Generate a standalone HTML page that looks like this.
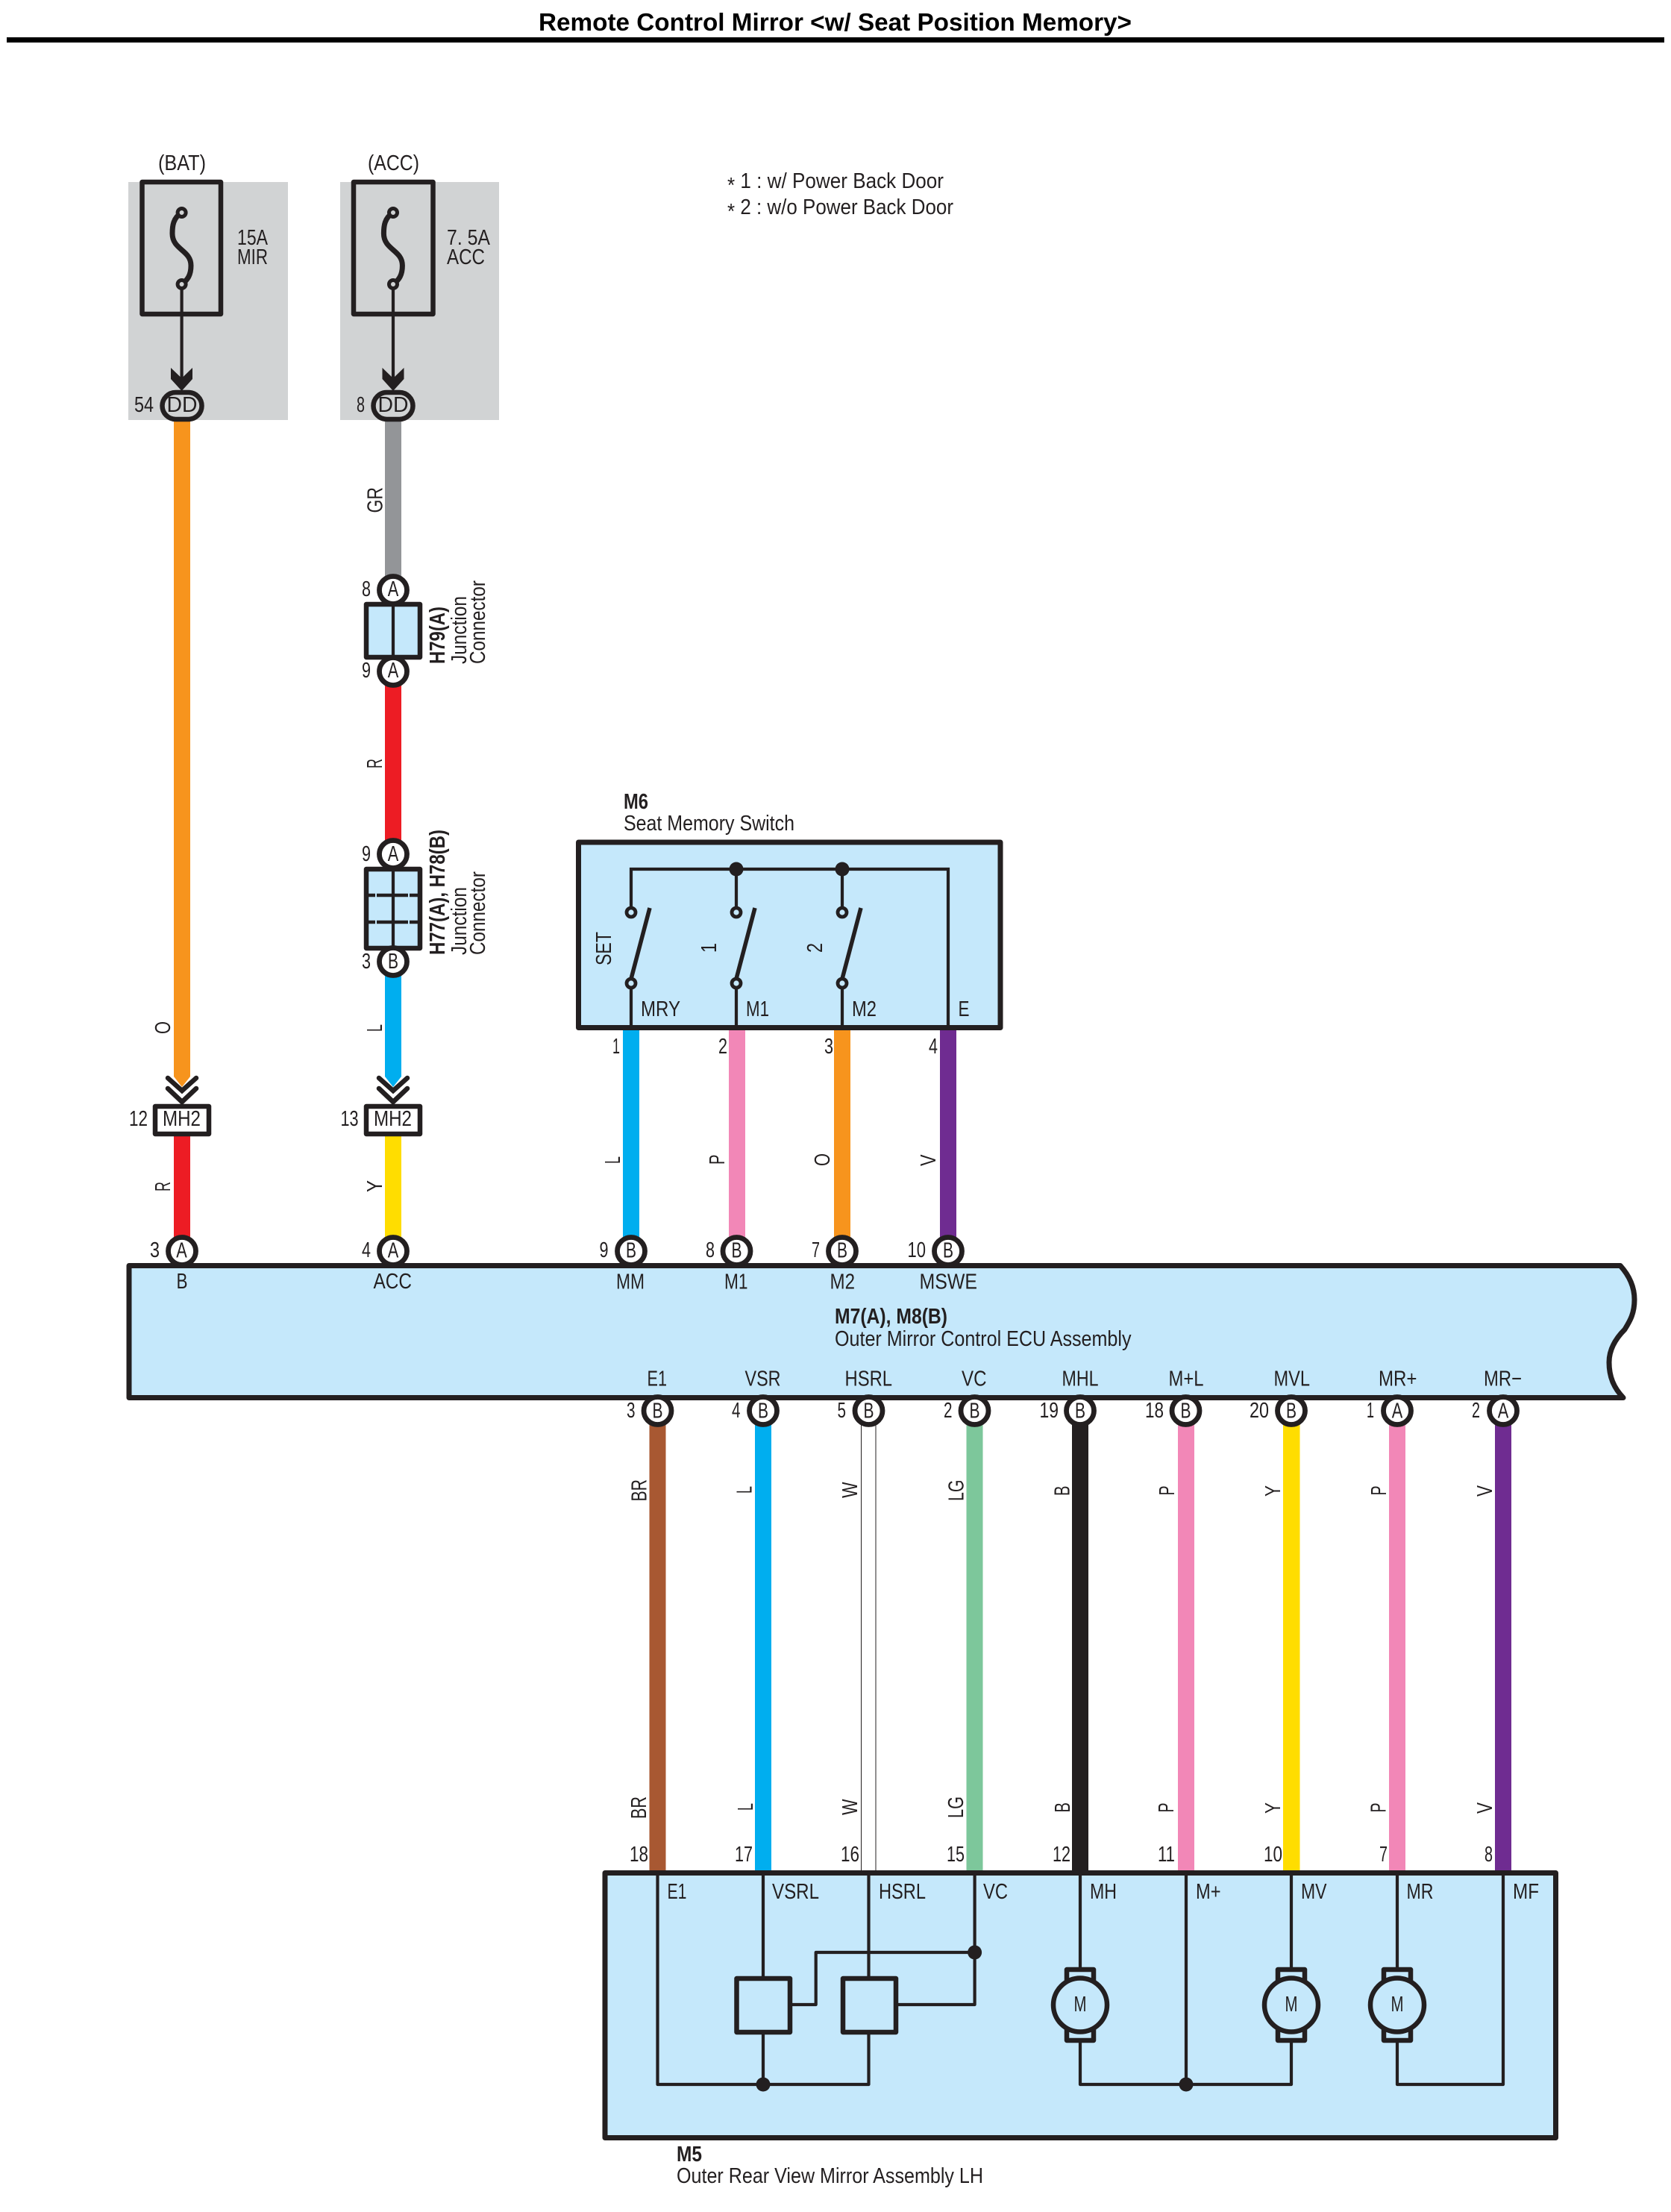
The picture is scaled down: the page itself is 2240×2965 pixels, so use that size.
<!DOCTYPE html>
<html><head><meta charset="utf-8"><title>Remote Control Mirror</title>
<style>
html,body{margin:0;padding:0;background:#fff}
svg{display:block}
text{font-family:"Liberation Sans",sans-serif;font-size:29px;fill:#231f20}
.b{font-weight:bold}
.m{text-anchor:middle}
.ln{stroke:#231f20;stroke-width:4.2;fill:none}
.hv{stroke:#231f20;stroke-width:6.5;fill:none;stroke-linejoin:round}
.c{fill:#fff;stroke:#231f20;stroke-width:6.8}
.dot{fill:#231f20}
</style></head><body>
<svg xmlns="http://www.w3.org/2000/svg" width="2240" height="2965" viewBox="0 0 2240 2965">
<rect width="2240" height="2965" fill="#fff"/>

<!-- title -->
<text x="722" y="41" class="b" style="font-size:33px;fill:#000" textLength="795" lengthAdjust="spacingAndGlyphs">Remote Control Mirror &lt;w/ Seat Position Memory&gt;</text>
<rect x="9" y="50" width="2222" height="7" fill="#000"/>

<!-- notes -->
<text x="975" y="252" textLength="290" lengthAdjust="spacingAndGlyphs"><tspan dy="6">*</tspan><tspan dy="-6"> 1 : w/ Power Back Door</tspan></text>
<text x="975" y="287" textLength="303" lengthAdjust="spacingAndGlyphs"><tspan dy="6">*</tspan><tspan dy="-6"> 2 : w/o Power Back Door</tspan></text>

<!-- panels -->
<rect x="172" y="244" width="214" height="319" fill="#d1d3d4"/>
<rect x="456" y="244" width="213" height="319" fill="#d1d3d4"/>

<text x="212" y="228" textLength="64" lengthAdjust="spacingAndGlyphs">(BAT)</text>
<text x="493" y="228" textLength="69" lengthAdjust="spacingAndGlyphs">(ACC)</text>

<!-- upper wires -->
<polygon points="233,563 255,563 255,1443 244,1457 233,1443" fill="#f7941d"/>
<rect x="516" y="563" width="22" height="215" fill="#939598"/>
<rect x="516" y="905" width="22" height="225" fill="#ed1c24"/>
<polygon points="516,1300 538,1300 538,1443 527,1457 516,1443" fill="#00aeef"/>
<rect x="233" y="1520" width="22" height="145" fill="#ed1c24"/>
<rect x="516" y="1520" width="22" height="145" fill="#ffdd00"/>

<!-- M6 wires -->
<rect x="835" y="1378" width="22" height="290" fill="#00aeef"/>
<rect x="977" y="1378" width="22" height="290" fill="#f287b7"/>
<rect x="1118" y="1378" width="22" height="290" fill="#f7941d"/>
<rect x="1260" y="1378" width="22" height="290" fill="#6f2c91"/>

<!-- lower wires -->
<rect x="870.5" y="1905" width="22" height="605" fill="#a85832"/>
<rect x="1012" y="1905" width="22" height="605" fill="#00aeef"/>
<line x1="1154.5" y1="1905" x2="1154.5" y2="2510" stroke="#231f20" stroke-width="1"/>
<line x1="1174" y1="1905" x2="1174" y2="2510" stroke="#231f20" stroke-width="1"/>
<rect x="1295.5" y="1905" width="22" height="605" fill="#7dc79b"/>
<rect x="1437" y="1905" width="22" height="612" fill="#231f20"/>
<rect x="1579" y="1905" width="22" height="605" fill="#f287b7"/>
<rect x="1720" y="1905" width="22.5" height="605" fill="#ffdd00"/>
<rect x="1862" y="1905" width="22" height="605" fill="#f287b7"/>
<rect x="2004" y="1905" width="22" height="605" fill="#6f2c91"/>

<!-- fuse 1 -->
<rect x="190.5" y="244" width="105.5" height="177" class="hv"/>
<path d="M243.6,285 C232,292 231,303 231,313 C231,335 256,335 256,356 C256,368 252,375 243.6,381" fill="none" stroke="#231f20" stroke-width="7"/>
<circle cx="243.6" cy="285" r="5.5" fill="#d1d3d4" stroke="#231f20" stroke-width="5"/>
<circle cx="243.6" cy="381" r="5.5" fill="#d1d3d4" stroke="#231f20" stroke-width="5"/>
<line x1="243.6" y1="387" x2="243.6" y2="510" class="ln"/>
<polygon points="229,493 243.6,507 258,493 258,508 243.6,524 229,508" fill="#231f20"/>
<rect x="217.5" y="526" width="53" height="36" rx="18" fill="#d1d3d4" stroke="#231f20" stroke-width="6.5"/>
<text x="244" y="552" class="m" textLength="41" lengthAdjust="spacingAndGlyphs">DD</text>
<text x="180" y="552" textLength="26" lengthAdjust="spacingAndGlyphs">54</text>
<text x="318" y="328" textLength="41" lengthAdjust="spacingAndGlyphs">15A</text>
<text x="318" y="354" textLength="41" lengthAdjust="spacingAndGlyphs">MIR</text>

<!-- fuse 2 -->
<rect x="474" y="244" width="106.5" height="177" class="hv"/>
<path d="M527,285 C515.4,292 514.4,303 514.4,313 C514.4,335 539.4,335 539.4,356 C539.4,368 535.4,375 527,381" fill="none" stroke="#231f20" stroke-width="7"/>
<circle cx="527" cy="285" r="5.5" fill="#d1d3d4" stroke="#231f20" stroke-width="5"/>
<circle cx="527" cy="381" r="5.5" fill="#d1d3d4" stroke="#231f20" stroke-width="5"/>
<line x1="527" y1="387" x2="527" y2="510" class="ln"/>
<polygon points="512.5,493 527,507 541.5,493 541.5,508 527,524 512.5,508" fill="#231f20"/>
<rect x="500.5" y="526" width="53" height="36" rx="18" fill="#d1d3d4" stroke="#231f20" stroke-width="6.5"/>
<text x="527" y="552" class="m" textLength="41" lengthAdjust="spacingAndGlyphs">DD</text>
<text x="478" y="552" textLength="11" lengthAdjust="spacingAndGlyphs">8</text>
<text x="599" y="328" textLength="58" lengthAdjust="spacingAndGlyphs">7. 5A</text>
<text x="599" y="354" textLength="51" lengthAdjust="spacingAndGlyphs">ACC</text>

<!-- junction connectors -->
<rect x="491" y="810" width="72" height="71" class="hv" style="fill:#c5e8fb"/>
<line x1="527" y1="810" x2="527" y2="881" class="ln"/>
<circle cx="527" cy="791" r="18.5" class="c"/>
<circle cx="527" cy="900" r="18.5" class="c"/>
<text x="527" y="799" class="m" textLength="14.5" lengthAdjust="spacingAndGlyphs">A</text>
<text x="527" y="908" class="m" textLength="14.5" lengthAdjust="spacingAndGlyphs">A</text>
<text x="485" y="799" textLength="12" lengthAdjust="spacingAndGlyphs">8</text>
<text x="485" y="908" textLength="12" lengthAdjust="spacingAndGlyphs">9</text>
<text transform="translate(596,890) rotate(-90)" class="b" textLength="77" lengthAdjust="spacingAndGlyphs">H79(A)</text>
<text transform="translate(625,890) rotate(-90)" textLength="91" lengthAdjust="spacingAndGlyphs">Junction</text>
<text transform="translate(650,890) rotate(-90)" textLength="112" lengthAdjust="spacingAndGlyphs">Connector</text>

<rect x="491" y="1165" width="72" height="106" class="hv" style="fill:#c5e8fb"/>
<line x1="527" y1="1165" x2="527" y2="1271" class="ln"/>
<line x1="491" y1="1200" x2="563" y2="1200" stroke="#231f20" stroke-width="4.5" stroke-dasharray="12 2 20 2 20 2 12"/>
<line x1="491" y1="1236" x2="563" y2="1236" stroke="#231f20" stroke-width="4.5" stroke-dasharray="12 2 20 2 20 2 12"/>
<circle cx="527" cy="1145" r="18.5" class="c"/>
<circle cx="527" cy="1289" r="18.5" class="c"/>
<text x="527" y="1154" class="m" textLength="14.5" lengthAdjust="spacingAndGlyphs">A</text>
<text x="527" y="1298" class="m" textLength="14" lengthAdjust="spacingAndGlyphs">B</text>
<text x="485" y="1154" textLength="12" lengthAdjust="spacingAndGlyphs">9</text>
<text x="485" y="1298" textLength="12" lengthAdjust="spacingAndGlyphs">3</text>
<text transform="translate(596,1280) rotate(-90)" class="b" textLength="168" lengthAdjust="spacingAndGlyphs">H77(A), H78(B)</text>
<text transform="translate(625,1280) rotate(-90)" textLength="91" lengthAdjust="spacingAndGlyphs">Junction</text>
<text transform="translate(650,1280) rotate(-90)" textLength="112" lengthAdjust="spacingAndGlyphs">Connector</text>

<!-- chevrons & MH2 -->
<path d="M225,1445 L244,1462 L263,1445 M225,1459 L244,1477 L263,1459" fill="none" stroke="#231f20" stroke-width="6.5" stroke-linecap="round"/>
<path d="M508,1445 L527,1462 L546,1445 M508,1459 L527,1477 L546,1459" fill="none" stroke="#231f20" stroke-width="6.5" stroke-linecap="round"/>
<rect x="208" y="1483" width="72" height="37" class="hv" style="fill:#fff"/>
<rect x="491" y="1483" width="72" height="37" class="hv" style="fill:#fff"/>
<text x="218" y="1509" textLength="51" lengthAdjust="spacingAndGlyphs">MH2</text>
<text x="501" y="1509" textLength="51" lengthAdjust="spacingAndGlyphs">MH2</text>
<text x="173" y="1509" textLength="25" lengthAdjust="spacingAndGlyphs">12</text>
<text x="456.5" y="1509" textLength="24" lengthAdjust="spacingAndGlyphs">13</text>

<!-- wire labels upper -->
<text transform="translate(512.5,687.5) rotate(-90)" textLength="34.5" lengthAdjust="spacingAndGlyphs">GR</text>
<text transform="translate(512,1030) rotate(-90)" textLength="13" lengthAdjust="spacingAndGlyphs">R</text>
<text transform="translate(228,1386) rotate(-90)" textLength="17" lengthAdjust="spacingAndGlyphs">O</text>
<text transform="translate(512,1383) rotate(-90)" textLength="10" lengthAdjust="spacingAndGlyphs">L</text>
<text transform="translate(228,1597) rotate(-90)" textLength="13" lengthAdjust="spacingAndGlyphs">R</text>
<text transform="translate(512,1598) rotate(-90)" textLength="16" lengthAdjust="spacingAndGlyphs">Y</text>
<text transform="translate(831,1560) rotate(-90)" textLength="10" lengthAdjust="spacingAndGlyphs">L</text>
<text transform="translate(971,1561) rotate(-90)" textLength="13.5" lengthAdjust="spacingAndGlyphs">P</text>
<text transform="translate(1112,1563) rotate(-90)" textLength="17" lengthAdjust="spacingAndGlyphs">O</text>
<text transform="translate(1254,1563) rotate(-90)" textLength="15.5" lengthAdjust="spacingAndGlyphs">V</text>

<!-- M6 -->
<text x="836" y="1084" class="b" textLength="33" lengthAdjust="spacingAndGlyphs">M6</text>
<text x="836" y="1113" textLength="229" lengthAdjust="spacingAndGlyphs">Seat Memory Switch</text>
<rect x="775.5" y="1129" width="565.5" height="248.5" class="hv" style="fill:#c5e8fb;stroke-width:7"/>
<path d="M846,1217 V1165 H1271 V1378 M987,1165 V1217 M1129,1165 V1217 M846,1324 V1378 M987,1324 V1378 M1129,1324 V1378" class="ln"/>
<circle cx="987" cy="1165" r="9.5" class="dot"/>
<circle cx="1129" cy="1165" r="9.5" class="dot"/>
<path d="M846,1312 L871,1217 M987,1312 L1012,1217 M1129,1312 L1154,1217" stroke="#231f20" stroke-width="5.5" fill="none"/>
<g fill="#c5e8fb" stroke="#231f20" stroke-width="4.8">
<circle cx="846" cy="1223" r="6"/><circle cx="987" cy="1223" r="6"/><circle cx="1129" cy="1223" r="6"/>
<circle cx="846" cy="1318" r="6"/><circle cx="987" cy="1318" r="6"/><circle cx="1129" cy="1318" r="6"/>
</g>
<text transform="translate(819,1294) rotate(-90)" textLength="45" lengthAdjust="spacingAndGlyphs">SET</text>
<text transform="translate(960,1277) rotate(-90)" textLength="13" lengthAdjust="spacingAndGlyphs">1</text>
<text transform="translate(1102,1277) rotate(-90)" textLength="13" lengthAdjust="spacingAndGlyphs">2</text>
<text x="859" y="1362" textLength="53" lengthAdjust="spacingAndGlyphs">MRY</text>
<text x="1000" y="1362" textLength="31" lengthAdjust="spacingAndGlyphs">M1</text>
<text x="1142" y="1362" textLength="33" lengthAdjust="spacingAndGlyphs">M2</text>
<text x="1284.5" y="1362" textLength="15" lengthAdjust="spacingAndGlyphs">E</text>
<text x="821" y="1412" textLength="10" lengthAdjust="spacingAndGlyphs">1</text>
<text x="963" y="1412" textLength="12" lengthAdjust="spacingAndGlyphs">2</text>
<text x="1105" y="1412" textLength="12" lengthAdjust="spacingAndGlyphs">3</text>
<text x="1245" y="1412" textLength="12" lengthAdjust="spacingAndGlyphs">4</text>

<!-- ECU box -->
<path d="M173,1696.5 H2172 C2186,1712 2191,1728 2191,1742 C2191,1762 2184,1772 2178,1782 C2165,1795 2157,1810 2157,1826 C2157,1845 2163,1860 2176,1873.5 H173 Z" fill="#c5e8fb" stroke="#231f20" stroke-width="7" stroke-linejoin="round"/>

<!-- ECU top circles -->
<circle cx="244" cy="1677" r="18.5" class="c"/>
<circle cx="527" cy="1677" r="18.5" class="c"/>
<circle cx="846" cy="1677" r="18.5" class="c"/>
<circle cx="987.5" cy="1677" r="18.5" class="c"/>
<circle cx="1129" cy="1677" r="18.5" class="c"/>
<circle cx="1271" cy="1677" r="18.5" class="c"/>
<text x="243.5" y="1685.5" class="m" textLength="14.5" lengthAdjust="spacingAndGlyphs">A</text>
<text x="527" y="1685.5" class="m" textLength="14.5" lengthAdjust="spacingAndGlyphs">A</text>
<text x="846" y="1685.5" class="m" textLength="14" lengthAdjust="spacingAndGlyphs">B</text>
<text x="987.5" y="1685.5" class="m" textLength="14" lengthAdjust="spacingAndGlyphs">B</text>
<text x="1129" y="1685.5" class="m" textLength="14" lengthAdjust="spacingAndGlyphs">B</text>
<text x="1271" y="1685.5" class="m" textLength="14" lengthAdjust="spacingAndGlyphs">B</text>
<text x="201" y="1685" textLength="13" lengthAdjust="spacingAndGlyphs">3</text>
<text x="485" y="1685" textLength="12" lengthAdjust="spacingAndGlyphs">4</text>
<text x="803.5" y="1685" textLength="12" lengthAdjust="spacingAndGlyphs">9</text>
<text x="946" y="1685" textLength="12" lengthAdjust="spacingAndGlyphs">8</text>
<text x="1088" y="1685" textLength="11" lengthAdjust="spacingAndGlyphs">7</text>
<text x="1216.5" y="1685" textLength="24.5" lengthAdjust="spacingAndGlyphs">10</text>

<text x="244" y="1727" class="m" textLength="15" lengthAdjust="spacingAndGlyphs">B</text>
<text x="500.5" y="1727" textLength="51.5" lengthAdjust="spacingAndGlyphs">ACC</text>
<text x="826" y="1727.5" textLength="38" lengthAdjust="spacingAndGlyphs">MM</text>
<text x="971" y="1727.5" textLength="31.5" lengthAdjust="spacingAndGlyphs">M1</text>
<text x="1112.5" y="1727.5" textLength="33.5" lengthAdjust="spacingAndGlyphs">M2</text>
<text x="1232.5" y="1727.5" textLength="77.5" lengthAdjust="spacingAndGlyphs">MSWE</text>
<text x="1119" y="1774" class="b" textLength="151" lengthAdjust="spacingAndGlyphs">M7(A), M8(B)</text>
<text x="1119" y="1804" textLength="397.5" lengthAdjust="spacingAndGlyphs">Outer Mirror Control ECU Assembly</text>

<text x="867.5" y="1857.5" textLength="26.5" lengthAdjust="spacingAndGlyphs">E1</text>
<text x="998.5" y="1857.5" textLength="48" lengthAdjust="spacingAndGlyphs">VSR</text>
<text x="1132.5" y="1857.5" textLength="63.5" lengthAdjust="spacingAndGlyphs">HSRL</text>
<text x="1289" y="1857.5" textLength="33.5" lengthAdjust="spacingAndGlyphs">VC</text>
<text x="1423.5" y="1857.5" textLength="49" lengthAdjust="spacingAndGlyphs">MHL</text>
<text x="1566.5" y="1857.5" textLength="47" lengthAdjust="spacingAndGlyphs">M+L</text>
<text x="1707.5" y="1857.5" textLength="48.5" lengthAdjust="spacingAndGlyphs">MVL</text>
<text x="1848" y="1857.5" textLength="51.5" lengthAdjust="spacingAndGlyphs">MR+</text>
<text x="1989" y="1857.5" textLength="51" lengthAdjust="spacingAndGlyphs">MR−</text>

<!-- ECU bottom circles -->
<circle cx="881.5" cy="1891" r="18.5" class="c"/>
<circle cx="1023" cy="1891" r="18.5" class="c"/>
<circle cx="1164.5" cy="1891" r="18.5" class="c"/>
<circle cx="1306.5" cy="1891" r="18.5" class="c"/>
<circle cx="1448" cy="1891" r="18.5" class="c"/>
<circle cx="1589.5" cy="1891" r="18.5" class="c"/>
<circle cx="1731" cy="1891" r="18.5" class="c"/>
<circle cx="1873" cy="1891" r="18.5" class="c"/>
<circle cx="2015" cy="1891" r="18.5" class="c"/>
<text x="881.5" y="1900.5" class="m" textLength="14" lengthAdjust="spacingAndGlyphs">B</text>
<text x="1023" y="1900.5" class="m" textLength="14" lengthAdjust="spacingAndGlyphs">B</text>
<text x="1164.5" y="1900.5" class="m" textLength="14" lengthAdjust="spacingAndGlyphs">B</text>
<text x="1306.5" y="1900.5" class="m" textLength="14" lengthAdjust="spacingAndGlyphs">B</text>
<text x="1448" y="1900.5" class="m" textLength="14" lengthAdjust="spacingAndGlyphs">B</text>
<text x="1589.5" y="1900.5" class="m" textLength="14" lengthAdjust="spacingAndGlyphs">B</text>
<text x="1731" y="1900.5" class="m" textLength="14" lengthAdjust="spacingAndGlyphs">B</text>
<text x="1873" y="1900.5" class="m" textLength="14.5" lengthAdjust="spacingAndGlyphs">A</text>
<text x="2015" y="1900.5" class="m" textLength="14.5" lengthAdjust="spacingAndGlyphs">A</text>
<text x="840" y="1900" textLength="11.5" lengthAdjust="spacingAndGlyphs">3</text>
<text x="981" y="1900" textLength="11.5" lengthAdjust="spacingAndGlyphs">4</text>
<text x="1122.5" y="1900" textLength="11.5" lengthAdjust="spacingAndGlyphs">5</text>
<text x="1265" y="1900" textLength="11.5" lengthAdjust="spacingAndGlyphs">2</text>
<text x="1393.5" y="1900" textLength="25.5" lengthAdjust="spacingAndGlyphs">19</text>
<text x="1535" y="1900" textLength="25" lengthAdjust="spacingAndGlyphs">18</text>
<text x="1675" y="1900" textLength="26" lengthAdjust="spacingAndGlyphs">20</text>
<text x="1832" y="1900" textLength="10" lengthAdjust="spacingAndGlyphs">1</text>
<text x="1973" y="1900" textLength="11" lengthAdjust="spacingAndGlyphs">2</text>

<!-- lower wire labels top row -->
<text transform="translate(866.5,2012.5) rotate(-90)" textLength="29.5" lengthAdjust="spacingAndGlyphs">BR</text>
<text transform="translate(1007.5,2002) rotate(-90)" textLength="10" lengthAdjust="spacingAndGlyphs">L</text>
<text transform="translate(1149,2008) rotate(-90)" textLength="21.5" lengthAdjust="spacingAndGlyphs">W</text>
<text transform="translate(1291.5,2012) rotate(-90)" textLength="28.5" lengthAdjust="spacingAndGlyphs">LG</text>
<text transform="translate(1433.5,2005) rotate(-90)" textLength="13.5" lengthAdjust="spacingAndGlyphs">B</text>
<text transform="translate(1574,2004.5) rotate(-90)" textLength="13" lengthAdjust="spacingAndGlyphs">P</text>
<text transform="translate(1716,2006) rotate(-90)" textLength="15" lengthAdjust="spacingAndGlyphs">Y</text>
<text transform="translate(1858,2004.5) rotate(-90)" textLength="13" lengthAdjust="spacingAndGlyphs">P</text>
<text transform="translate(2000,2006) rotate(-90)" textLength="15" lengthAdjust="spacingAndGlyphs">V</text>

<!-- lower wire labels bottom row -->
<text transform="translate(866,2438) rotate(-90)" textLength="30" lengthAdjust="spacingAndGlyphs">BR</text>
<text transform="translate(1009,2427) rotate(-90)" textLength="10" lengthAdjust="spacingAndGlyphs">L</text>
<text transform="translate(1149,2433) rotate(-90)" textLength="21.5" lengthAdjust="spacingAndGlyphs">W</text>
<text transform="translate(1291,2437) rotate(-90)" textLength="29" lengthAdjust="spacingAndGlyphs">LG</text>
<text transform="translate(1434,2429.5) rotate(-90)" textLength="13.5" lengthAdjust="spacingAndGlyphs">B</text>
<text transform="translate(1573,2429.5) rotate(-90)" textLength="13" lengthAdjust="spacingAndGlyphs">P</text>
<text transform="translate(1716,2431) rotate(-90)" textLength="15" lengthAdjust="spacingAndGlyphs">Y</text>
<text transform="translate(1857.5,2429.5) rotate(-90)" textLength="13" lengthAdjust="spacingAndGlyphs">P</text>
<text transform="translate(2000,2431) rotate(-90)" textLength="15" lengthAdjust="spacingAndGlyphs">V</text>

<text x="844" y="2495" textLength="25" lengthAdjust="spacingAndGlyphs">18</text>
<text x="985" y="2495" textLength="24" lengthAdjust="spacingAndGlyphs">17</text>
<text x="1127" y="2495" textLength="25" lengthAdjust="spacingAndGlyphs">16</text>
<text x="1269" y="2495" textLength="24" lengthAdjust="spacingAndGlyphs">15</text>
<text x="1411" y="2495" textLength="24" lengthAdjust="spacingAndGlyphs">12</text>
<text x="1552" y="2495" textLength="23" lengthAdjust="spacingAndGlyphs">11</text>
<text x="1694" y="2495" textLength="25" lengthAdjust="spacingAndGlyphs">10</text>
<text x="1849" y="2495" textLength="11" lengthAdjust="spacingAndGlyphs">7</text>
<text x="1990" y="2495" textLength="11" lengthAdjust="spacingAndGlyphs">8</text>

<!-- M5 box -->
<rect x="811" y="2510.5" width="1274.5" height="355" class="hv" style="fill:#c5e8fb;stroke-width:7"/>
<path d="M881.5,2510 V2794 H1164.5 V2724 M1164.5,2652 V2510 M1023,2510 V2652 M1023,2724 V2794 M1062,2687 H1093.7 V2617 H1306.6 M1204,2687 H1306.6 V2510" class="ln" stroke-linejoin="round"/>
<path d="M1448,2510 V2640 M1448,2735 V2794 H1731 V2735 M1731,2640 V2510 M1590,2510 V2794 M1873,2510 V2640 M1873,2735 V2794 H2015 V2510" class="ln" stroke-linejoin="round"/>
<circle cx="1023" cy="2794" r="9.5" class="dot"/>
<circle cx="1306.6" cy="2617" r="9.5" class="dot"/>
<circle cx="1590" cy="2794" r="9.5" class="dot"/>
<rect x="987.5" y="2652" width="71.5" height="72" class="hv" style="fill:#c5e8fb"/>
<rect x="1130" y="2652" width="71" height="72" class="hv" style="fill:#c5e8fb"/>

<!-- motors -->
<g fill="#c5e8fb" stroke="#231f20" stroke-width="6.5" stroke-linejoin="round">
<rect x="1430" y="2640" width="36" height="20"/><rect x="1430" y="2715" width="36" height="20"/>
<circle cx="1448" cy="2687.5" r="36"/>
<rect x="1713" y="2640" width="36" height="20"/><rect x="1713" y="2715" width="36" height="20"/>
<circle cx="1731" cy="2687.5" r="36"/>
<rect x="1855" y="2640" width="36" height="20"/><rect x="1855" y="2715" width="36" height="20"/>
<circle cx="1873" cy="2687.5" r="36"/>
</g>
<text x="1448" y="2696" class="m" textLength="17" lengthAdjust="spacingAndGlyphs">M</text>
<text x="1731" y="2696" class="m" textLength="17" lengthAdjust="spacingAndGlyphs">M</text>
<text x="1873" y="2696" class="m" textLength="17" lengthAdjust="spacingAndGlyphs">M</text>

<text x="894.5" y="2545" textLength="26" lengthAdjust="spacingAndGlyphs">E1</text>
<text x="1035" y="2545" textLength="63" lengthAdjust="spacingAndGlyphs">VSRL</text>
<text x="1178" y="2545" textLength="63" lengthAdjust="spacingAndGlyphs">HSRL</text>
<text x="1318" y="2545" textLength="33" lengthAdjust="spacingAndGlyphs">VC</text>
<text x="1461" y="2545" textLength="36" lengthAdjust="spacingAndGlyphs">MH</text>
<text x="1603" y="2545" textLength="33.5" lengthAdjust="spacingAndGlyphs">M+</text>
<text x="1744" y="2545" textLength="34.5" lengthAdjust="spacingAndGlyphs">MV</text>
<text x="1885.5" y="2545" textLength="36" lengthAdjust="spacingAndGlyphs">MR</text>
<text x="2028" y="2545" textLength="35" lengthAdjust="spacingAndGlyphs">MF</text>

<text x="907" y="2897" class="b" textLength="34" lengthAdjust="spacingAndGlyphs">M5</text>
<text x="907" y="2926" textLength="411" lengthAdjust="spacingAndGlyphs">Outer Rear View Mirror Assembly LH</text>
</svg>
</body></html>
